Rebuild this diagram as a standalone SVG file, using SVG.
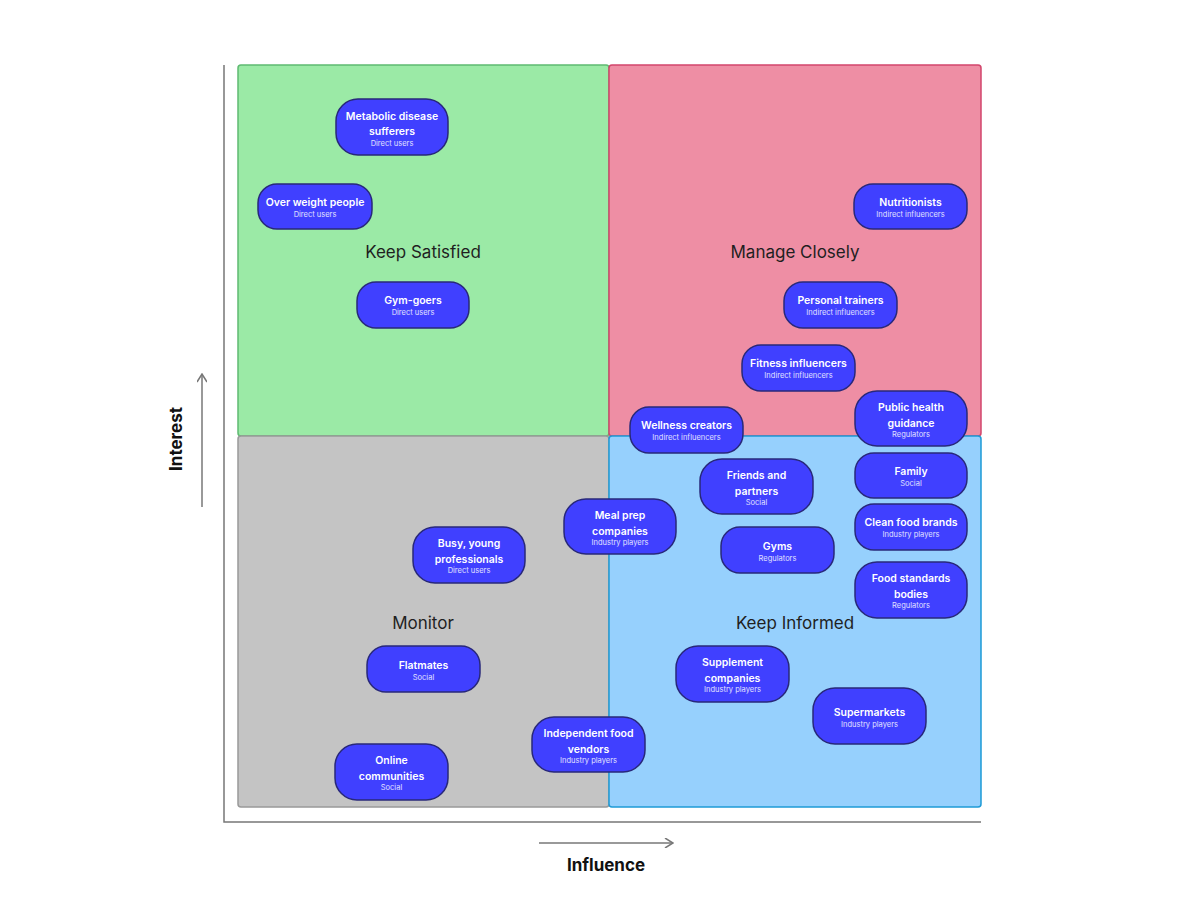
<svg xmlns="http://www.w3.org/2000/svg" width="1200" height="900" viewBox="0 0 1200 900">
<style>
.q{stroke-width:1.5}
.ql{font-family:Inter,"Liberation Sans",sans-serif;font-size:17px;fill:#1f1f1f;text-anchor:middle}
.ax{font-family:Inter,"Liberation Sans",sans-serif;font-size:17px;font-weight:700;fill:#111;text-anchor:middle}
.n rect{fill:#4040ff;stroke:#28287a;stroke-width:1.5}
.t{font-family:Inter,"Liberation Sans",sans-serif;font-size:10.5px;font-weight:600;fill:#fff;text-anchor:middle}
.s{font-family:Inter,"Liberation Sans",sans-serif;font-size:7.5px;fill:#e0e0ff;text-anchor:middle}
.axl{stroke:#777;stroke-width:1.5;fill:none}
</style>
<defs>
<marker id="ah" viewBox="0 0 10 10" refX="9" refY="5" markerWidth="10" markerHeight="10" markerUnits="userSpaceOnUse" orient="auto">
<path d="M1,0 L9,5 L1,10" fill="none" stroke="#777" stroke-width="1.5"/>
</marker>
</defs>
<rect width="1200" height="900" fill="#fff"/>
<g id="quadrants">
<rect class="q" x="238" y="65" width="371" height="371" rx="3" fill="#9beaa6" stroke="#5fba72"/>
<rect class="q" x="609" y="65" width="372" height="371" rx="3" fill="#ee8ea4" stroke="#d2466c"/>
<rect class="q" x="238" y="436" width="371" height="371" rx="3" fill="#c4c4c4" stroke="#999"/>
<rect class="q" x="609" y="436" width="372" height="371" rx="3" fill="#96d0fd" stroke="#1e9ad6"/>
<text class="ql" x="423" y="258">Keep Satisfied</text>
<text class="ql" x="795" y="258">Manage Closely</text>
<text class="ql" x="423" y="629">Monitor</text>
<text class="ql" x="795" y="629">Keep Informed</text>
</g>
<g id="axes">
<path class="axl" d="M224,65 V822 H981"/>
<path class="axl" d="M202,507 V374" marker-end="url(#ah)"/>
<path class="axl" d="M539,843 H673" marker-end="url(#ah)"/>
<text class="ax" transform="translate(182,439) rotate(-90)">Interest</text>
<text class="ax" x="606" y="871">Influence</text>
</g>
<g id="connectors"></g>
<g id="n1" class="n"><rect x="336" y="99" width="112" height="56" rx="22"/><text class="t" x="392" y="120">Metabolic disease</text><text class="t" x="392" y="135">sufferers</text><text class="s" x="392" y="146">Direct users</text></g>
<g id="n2" class="n"><rect x="258" y="184" width="114" height="45" rx="19"/><text class="t" x="315" y="206">Over weight people</text><text class="s" x="315" y="217">Direct users</text></g>
<g id="n3" class="n"><rect x="357" y="282" width="112" height="46" rx="19"/><text class="t" x="413" y="304">Gym-goers</text><text class="s" x="413" y="315">Direct users</text></g>
<g id="n4" class="n"><rect x="854" y="184" width="113" height="45" rx="19"/><text class="t" x="910.5" y="206">Nutritionists</text><text class="s" x="910.5" y="217">Indirect influencers</text></g>
<g id="n5" class="n"><rect x="784" y="282" width="113" height="46" rx="19"/><text class="t" x="840.5" y="304">Personal trainers</text><text class="s" x="840.5" y="315">Indirect influencers</text></g>
<g id="n6" class="n"><rect x="742" y="345" width="113" height="46" rx="19"/><text class="t" x="798.5" y="367">Fitness influencers</text><text class="s" x="798.5" y="378">Indirect influencers</text></g>
<g id="n7" class="n"><rect x="855" y="391" width="112" height="55" rx="22"/><text class="t" x="911" y="411">Public health</text><text class="t" x="911" y="427">guidance</text><text class="s" x="911" y="437">Regulators</text></g>
<g id="n8" class="n"><rect x="630" y="407" width="113" height="46" rx="19"/><text class="t" x="686.5" y="429">Wellness creators</text><text class="s" x="686.5" y="440">Indirect influencers</text></g>
<g id="n9" class="n"><rect x="700" y="459" width="113" height="55" rx="22"/><text class="t" x="756.5" y="479">Friends and</text><text class="t" x="756.5" y="495">partners</text><text class="s" x="756.5" y="505">Social</text></g>
<g id="n10" class="n"><rect x="855" y="453" width="112" height="45" rx="19"/><text class="t" x="911" y="475">Family</text><text class="s" x="911" y="486">Social</text></g>
<g id="n11" class="n"><rect x="564" y="499" width="112" height="55" rx="22"/><text class="t" x="620" y="519">Meal prep</text><text class="t" x="620" y="535">companies</text><text class="s" x="620" y="545">Industry players</text></g>
<g id="n12" class="n"><rect x="855" y="504" width="112" height="46" rx="19"/><text class="t" x="911" y="526">Clean food brands</text><text class="s" x="911" y="537">Industry players</text></g>
<g id="n13" class="n"><rect x="721" y="527" width="113" height="46" rx="19"/><text class="t" x="777.5" y="550">Gyms</text><text class="s" x="777.5" y="561">Regulators</text></g>
<g id="n14" class="n"><rect x="855" y="562" width="112" height="56" rx="22"/><text class="t" x="911" y="582">Food standards</text><text class="t" x="911" y="598">bodies</text><text class="s" x="911" y="608">Regulators</text></g>
<g id="n15" class="n"><rect x="413" y="527" width="112" height="56" rx="22"/><text class="t" x="469" y="547">Busy, young</text><text class="t" x="469" y="563">professionals</text><text class="s" x="469" y="573">Direct users</text></g>
<g id="n16" class="n"><rect x="367" y="646" width="113" height="46" rx="19"/><text class="t" x="423.5" y="669">Flatmates</text><text class="s" x="423.5" y="680">Social</text></g>
<g id="n17" class="n"><rect x="335" y="744" width="113" height="56" rx="22"/><text class="t" x="391.5" y="764">Online</text><text class="t" x="391.5" y="780">communities</text><text class="s" x="391.5" y="790">Social</text></g>
<g id="n18" class="n"><rect x="532" y="717" width="113" height="55" rx="22"/><text class="t" x="588.5" y="737">Independent food</text><text class="t" x="588.5" y="753">vendors</text><text class="s" x="588.5" y="763">Industry players</text></g>
<g id="n19" class="n"><rect x="676" y="646" width="113" height="56" rx="22"/><text class="t" x="732.5" y="666">Supplement</text><text class="t" x="732.5" y="682">companies</text><text class="s" x="732.5" y="692">Industry players</text></g>
<g id="n20" class="n"><rect x="813" y="688" width="113" height="56" rx="22"/><text class="t" x="869.5" y="716">Supermarkets</text><text class="s" x="869.5" y="727">Industry players</text></g>
</svg>
